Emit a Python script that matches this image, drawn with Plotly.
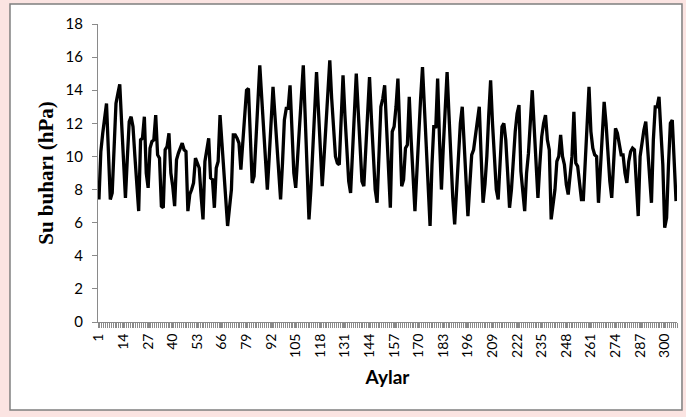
import plotly.graph_objects as go

# Monthly water vapour pressure (hPa)
su_buhari = [
    7.4, 10.3, 11.4, 12.4, 13.2, 10.3, 7.4, 7.8, 10.4, 13.2,
    13.8, 14.35, 12.0, 9.7, 7.5, 9.9, 12.1, 12.4, 11.8, 10.0,
    8.2, 6.7, 11.0, 11.1, 12.4, 9.0, 8.1, 10.5, 10.9, 11.0,
    12.5, 10.1, 9.9, 7.0, 6.9, 10.4, 10.6, 11.4, 9.0, 8.2,
    7.0, 9.8, 10.2, 10.5, 10.8, 10.4, 10.3, 6.7, 7.7, 8.0,
    8.4, 9.9, 9.6, 9.3, 7.6, 6.2, 9.7, 10.4, 11.1, 8.7,
    8.6, 6.9, 9.3, 9.7, 12.5, 10.8, 9.2, 7.5, 5.8, 6.9,
    8.0, 11.3, 11.3, 11.1, 10.8, 9.2, 10.9, 12.8, 14.0, 14.1,
    11.2, 8.4, 8.8, 11.2, 13.6, 15.5, 13.6, 11.7, 9.8, 8.0,
    10.0, 12.1, 14.2, 12.5, 10.8, 9.0, 7.4, 9.6, 12.2, 12.9,
    12.9, 14.3, 11.5, 9.0, 8.1, 10.0, 12.0, 13.8, 15.5, 12.4,
    9.3, 6.2, 8.0, 10.5, 13.0, 15.1, 12.8, 10.5, 8.2, 10.0,
    12.0, 14.0, 15.8, 13.5, 11.5, 10.0, 9.6, 9.5, 12.2, 14.9,
    12.5, 10.2, 8.5, 7.8, 10.0, 12.5, 15.0, 12.8, 10.5, 8.5,
    8.2, 10.5, 12.6, 14.8, 12.3, 10.0, 8.0, 7.2, 10.5, 13.0,
    13.5, 14.3, 11.8, 9.0, 6.9, 11.5, 11.8, 13.0, 14.7, 11.5,
    8.2, 8.6, 10.5, 10.7, 13.6, 11.0, 8.8, 6.7, 9.0, 11.5,
    13.5, 15.4, 13.0, 10.5, 8.0, 5.8, 9.5, 11.9, 11.7, 14.7,
    11.0, 8.0, 10.6, 13.0, 15.1, 12.5, 9.8, 7.5, 5.9, 8.0,
    10.0, 12.0, 13.0, 11.0, 8.7, 6.4, 8.3, 10.1, 10.4, 11.2,
    12.0, 13.0, 10.0, 7.2, 8.3, 10.0, 12.5, 14.6, 12.0, 10.0,
    8.0, 7.4, 9.6, 11.8, 12.0, 11.0, 9.0, 6.9, 8.0, 9.8,
    11.5, 12.6, 13.1, 9.1, 8.0, 6.7, 9.0, 10.2, 12.1, 14.0,
    11.8, 9.6, 7.5, 9.5, 11.2, 12.0, 12.5, 11.0, 10.4, 6.2,
    7.0, 8.0, 9.7, 10.0, 11.3, 10.0, 9.5, 8.3, 7.7, 9.0,
    10.0, 12.7, 9.6, 9.4, 8.5, 7.4, 7.4, 9.5, 11.8, 14.2,
    11.5, 10.5, 10.1, 10.0, 7.2, 9.5, 11.5, 13.3, 12.0, 10.0,
    8.5, 7.5, 10.0, 11.7, 11.4, 10.8, 10.1, 10.1, 9.0, 8.4,
    9.7, 10.3, 10.5, 10.4, 8.5, 6.4, 10.0, 11.0, 11.6, 12.1,
    10.3, 8.5, 7.2, 11.0, 13.0, 13.0, 13.6, 11.5, 9.5, 5.7,
    6.3, 9.5, 12.0, 12.2, 9.3, 7.3,
]
aylar = list(range(1, len(su_buhari) + 1))
x_tick_labels = [str(a) for a in aylar if (a - 1) % 13 == 0]
x_tick_vals = [a for a in aylar if (a - 1) % 13 == 0]
y_ticks = list(range(0, 19, 2))

AXIS_GREY = "#8a8a8a"
TICK_FONT = dict(family="Lato, Carlito, Calibri, sans-serif", size=14, color="#000000")

fig = go.Figure()
fig.add_trace(go.Scatter(
    x=aylar, y=su_buhari, mode="lines",
    line=dict(color="#000000", width=3.3),
    showlegend=False, hoverinfo="skip",
))

# white chart area with grey border on the slide-coloured background
fig.add_shape(type="rect", xref="paper", yref="paper",
              x0=-0.152, x1=1.0086, y0=-0.295, y1=1.067,
              fillcolor="#ffffff", line=dict(color="#7f7f7f", width=1.5),
              layer="below")

fig.update_layout(
    width=686, height=417,
    margin=dict(l=98, r=9, t=24, b=95, autoexpand=False),
    paper_bgcolor="#fbe4e2",
    plot_bgcolor="#ffffff",
    xaxis=dict(
        range=[0.5, len(su_buhari) + 0.5],
        tickmode="array", tickvals=x_tick_vals, ticktext=x_tick_labels,
        tickangle=-90, tickfont=TICK_FONT,
        ticks="outside", ticklen=5, tickcolor=AXIS_GREY, tickwidth=1,
        minor=dict(ticks="outside", ticklen=5, tickcolor=AXIS_GREY, tickwidth=1,
                   tick0=0.5, dtick=1),
        showline=True, linecolor=AXIS_GREY, linewidth=1,
        showgrid=False, zeroline=False,
        title=dict(text="<b>Aylar</b>", standoff=13,
                   font=dict(family="Lato, Carlito, Calibri, sans-serif", size=19, color="#000000")),
    ),
    yaxis=dict(
        range=[0, 18], tickmode="array", tickvals=y_ticks,
        ticktext=[str(v) for v in y_ticks], tickfont=dict(TICK_FONT, size=15),
        ticks="outside", ticklen=5, tickcolor=AXIS_GREY, tickwidth=1,
        ticklabelstandoff=6,
        showline=True, linecolor=AXIS_GREY, linewidth=1,
        showgrid=False, zeroline=False,
        title=dict(text="<b>Su buharı (hPa)</b>", standoff=6,
                   font=dict(family="Liberation Serif, Times New Roman, serif", size=21, color="#000000")),
    ),
)

fig.write_html("out.html", config={"displayModeBar": False},
               post_script="document.body.style.margin='0';")
